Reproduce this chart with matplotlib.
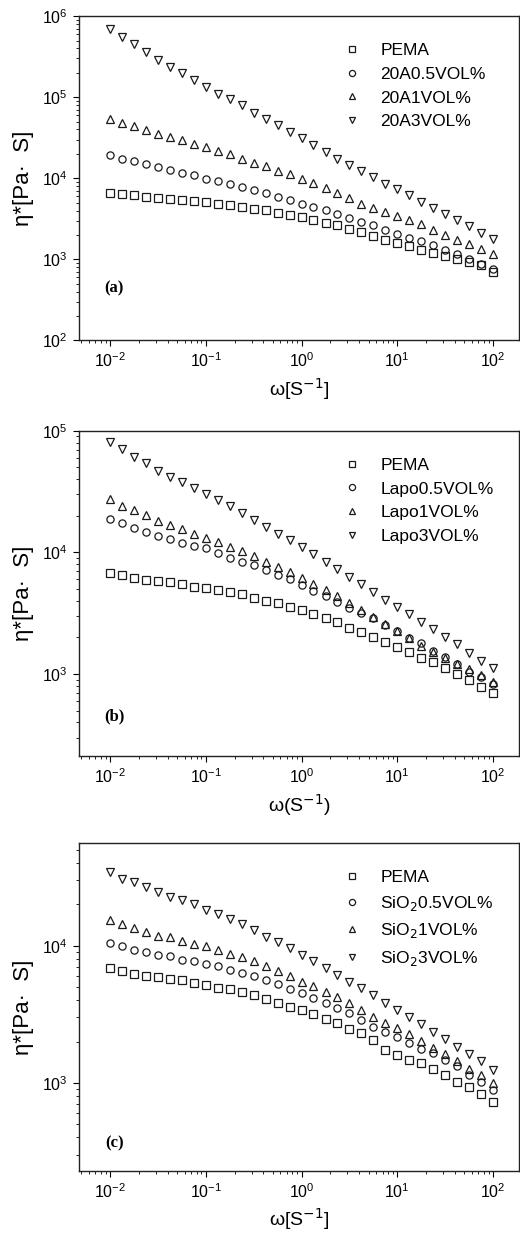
import numpy as np
import matplotlib
matplotlib.use("Agg")
import matplotlib.pyplot as plt
from matplotlib.ticker import LogLocator, NullFormatter

plt.rcParams['font.family'] = ['Liberation Sans', 'DejaVu Sans']

# --------------------
# DATA
# --------------------
omega = [0.01, 0.0133, 0.0178, 0.0237, 0.0316, 0.0422, 0.0562, 0.075,
         0.1, 0.133, 0.178, 0.237, 0.316, 0.422, 0.562, 0.75,
         1.0, 1.33, 1.78, 2.37, 3.16, 4.22, 5.62, 7.5,
         10, 13.3, 17.8, 23.7, 31.6, 42.2, 56.2, 75, 100]

# panel (a) - 20A
a_pema = [6590, 6470, 6170, 5890, 5770, 5610, 5450, 5250, 5100, 4870, 4640,
          4430, 4220, 4030, 3770, 3560, 3330, 3090, 2810, 2630, 2390, 2170,
          1920, 1750, 1590, 1460, 1320, 1200, 1090, 1020, 927, 843, 698]
a_05 = [19200, 17500, 16200, 15200, 13800, 12600, 11600, 10900, 9900, 9270,
        8590, 7820, 7110, 6590, 5890, 5350, 4870, 4430, 4030, 3660, 3240,
        2890, 2630, 2320, 2070, 1850, 1680, 1490, 1320, 1170, 1020, 884, 767]
a_1 = [54500, 48200, 43800, 39200, 35600, 32400, 29400, 26300, 24400, 21700,
       19800, 17500, 15500, 14200, 12300, 11200, 9900, 8750, 7670, 6590, 5770,
       4780, 4350, 3840, 3400, 3030, 2700, 2320, 2020, 1750, 1530, 1360, 1150]
a_3 = [685000, 545000, 447000, 363000, 286000, 237000, 196000, 165000, 134000,
       111000, 94500, 79600, 64700, 53500, 45100, 37300, 31800, 25500, 21100,
       17500, 14700, 12300, 10400, 8590, 7310, 6170, 5100, 4350, 3660, 3090,
       2610, 2130, 1800]
a_labels = ['PEMA', '20A0.5VOL%', '20A1VOL%', '20A3VOL%']

# panel (b) - Lapo
b_pema = [6810, 6520, 6110, 5930, 5810, 5660, 5500, 5220, 5060, 4900, 4690,
          4520, 4240, 3980, 3810, 3570, 3360, 3090, 2870, 2690, 2400, 2230,
          2030, 1850, 1680, 1530, 1360, 1250, 1110, 993, 894, 787, 694]
b_05 = [18800, 17300, 16000, 14600, 13700, 12900, 12000, 11300, 10800, 9810,
        9040, 8380, 7870, 7160, 6520, 6000, 5390, 4810, 4370, 3930, 3510,
        3150, 2870, 2530, 2260, 1990, 1790, 1550, 1390, 1220, 1040, 951, 822]
b_1 = [27400, 24000, 22300, 20300, 18100, 16800, 15600, 14100, 13200, 12200,
       11100, 10300, 9390, 8380, 7620, 6930, 6190, 5500, 4900, 4370, 3860,
       3360, 2960, 2560, 2260, 1990, 1710, 1510, 1360, 1200, 1100, 982, 865]
b_3 = [81200, 70300, 61100, 53900, 46600, 41900, 37600, 33600, 30000, 26900,
       24000, 20900, 18500, 16300, 14300, 12600, 11100, 9690, 8380, 7290,
       6310, 5460, 4750, 4060, 3530, 3110, 2690, 2330, 2030, 1770, 1500,
       1290, 1110]
b_labels = ['PEMA', 'Lapo0.5VOL%', 'Lapo1VOL%', 'Lapo3VOL%']

# panel (c) - SiO2
c_pema = [6870, 6490, 6240, 6030, 5900, 5700, 5580, 5330, 5190, 4900, 4820,
          4560, 4380, 4070, 3850, 3600, 3400, 3180, 2900, 2750, 2450, 2290,
          2050, 1730, 1590, 1470, 1400, 1270, 1140, 1020, 935, 826, 726]
c_05 = [10500, 9890, 9240, 8940, 8590, 8360, 7900, 7670, 7380, 7060, 6600,
        6310, 6030, 5640, 5240, 4820, 4510, 4140, 3850, 3500, 3220, 2880,
        2570, 2360, 2170, 1960, 1750, 1640, 1470, 1320, 1140, 1020, 894]
c_1 = [15500, 14300, 13500, 12500, 11800, 11500, 10900, 10300, 9890, 9350,
       8740, 8260, 7670, 7140, 6490, 5970, 5480, 5040, 4580, 4210, 3800,
       3400, 3040, 2750, 2500, 2260, 2020, 1780, 1610, 1450, 1270, 1140, 989]
c_3 = [34400, 30800, 29100, 26700, 24600, 22700, 21500, 20000, 18300, 16900,
       15700, 14300, 13100, 11600, 10600, 9620, 8590, 7670, 6870, 6140, 5480,
       4900, 4380, 3850, 3400, 3040, 2690, 2360, 2070, 1830, 1610, 1450, 1240]
c_labels = ['PEMA', 'SiO$_2$0.5VOL%', 'SiO$_2$1VOL%', 'SiO$_2$3VOL%']

markers = ['s', 'o', '^', 'v']

panels = [
    ([a_pema, a_05, a_1, a_3], a_labels, (1e2, 1e6), '(a)', 'ω[S$^{-1}$]', 0.725, 0.262, 0.16),
    ([b_pema, b_05, b_1, b_3], b_labels, (2.1e2, 1e5), '(b)', 'ω(S$^{-1}$)', 0.389, 0.263, 0.123),
    ([c_pema, c_05, c_1, c_3], c_labels, (2.27e2, 5.6e4), '(c)', 'ω[S$^{-1}$]', 0.054, 0.265, 0.085),
]

fig = plt.figure(figsize=(5.2, 12.38), dpi=100)

for series, labels, ylim, tag, xlab, bottom, height, tag_y in panels:
    ax = fig.add_axes([0.152, bottom, 0.846, height])
    for vals, lab, mk in zip(series, labels, markers):
        ax.plot(omega, vals, linestyle='none', marker=mk, markersize=5.2,
                markerfacecolor='none', markeredgecolor='#1a1a1a',
                markeredgewidth=0.9, label=lab)
    ax.set_xscale('log')
    ax.set_yscale('log')
    ax.set_xlim(10 ** -2.324, 10 ** 2.27)
    ax.set_ylim(*ylim)
    ax.xaxis.set_major_locator(LogLocator(base=10, numticks=10))
    ax.xaxis.set_minor_locator(LogLocator(base=10, subs=np.arange(2, 10), numticks=20))
    ax.xaxis.set_minor_formatter(NullFormatter())
    ax.yaxis.set_minor_formatter(NullFormatter())
    ax.tick_params(which='both', direction='out', top=False, right=False,
                   labelsize=11.5, pad=4)
    ax.tick_params(which='major', length=4, width=0.8)
    ax.tick_params(which='minor', length=2, width=0.6)
    for sp in ax.spines.values():
        sp.set_linewidth(1.0)
        sp.set_color('#222222')
    ax.set_xlabel(xlab, fontsize=14, labelpad=4)
    ax.set_ylabel('η*[Pa·  S]', fontsize=16, labelpad=6)
    ax.text(0.08, tag_y, tag, transform=ax.transAxes, fontsize=12,
            fontweight='bold', family='Liberation Serif', ha='center', va='center')
    ax.legend(loc='upper left', bbox_to_anchor=(0.60, 0.918), frameon=False,
              fontsize=12.5, handlelength=1.0, handletextpad=1.15,
              labelspacing=0.5, borderpad=0, borderaxespad=0, numpoints=1,
              markerscale=0.85)

fig.savefig('out.png', dpi=100)
